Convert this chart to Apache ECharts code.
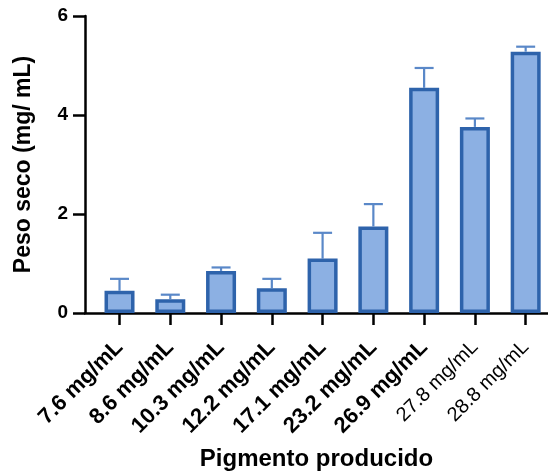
<!DOCTYPE html>
<html>
<head>
<meta charset="utf-8">
<script src="https://cdn.jsdelivr.net/npm/echarts@6/dist/echarts.min.js"></script>
<style>html,body{margin:0;padding:0;background:#fff}#c{width:548px;height:473px}</style>
</head>
<body>
<div id="c"></div>
<script>
var categories = ['7.6 mg/mL', '8.6 mg/mL', '10.3 mg/mL', '12.2 mg/mL', '17.1 mg/mL', '23.2 mg/mL', '26.9 mg/mL', '27.8 mg/mL', '28.8 mg/mL'];
var means = [0.45, 0.28, 0.85, 0.50, 1.10, 1.75, 4.55, 3.76, 5.28];
var errors = [0.24, 0.09, 0.07, 0.19, 0.52, 0.45, 0.40, 0.17, 0.10];
var plainLabels = ['27.8 mg/mL', '28.8 mg/mL'];
var yTicks = [0, 2, 4, 6];
var positions = categories.map(function (c, i) { return i; });

var font = '"Liberation Sans", Arial, sans-serif';
var chart = echarts.init(document.getElementById('c'));
chart.setOption({
  animation: false,
  grid: { left: 85, right: 0, top: 16, bottom: 160, containLabel: false, outerBoundsMode: 'none' },
  xAxis: {
    type: 'value',
    min: -0.68,
    max: 8.44,
    splitLine: { show: false },
    axisLine: { show: true, onZero: false, lineStyle: { color: '#000', width: 2.5 } },
    axisTick: { show: true, customValues: positions, length: 12, lineStyle: { color: '#000', width: 2.5 } },
    axisLabel: {
      customValues: positions,
      rotate: 45,
      margin: 31,
      hideOverlap: false,
      fontFamily: font, fontWeight: 'bold', fontSize: 22, color: '#000',
      formatter: function (v) {
        var c = categories[Math.round(v)];
        return plainLabels.indexOf(c) >= 0 ? '{r|' + c + '}' : c;
      },
      rich: {
        r: { fontFamily: font, fontWeight: 'normal', fontSize: 20, color: '#000' }
      }
    },
    name: 'Pigmento producido',
    nameLocation: 'middle',
    nameGap: 134,
    nameTextStyle: { fontFamily: font, fontWeight: 'bold', fontSize: 24, color: '#000' }
  },
  yAxis: {
    type: 'value',
    min: 0,
    max: 6,
    interval: 2,
    splitLine: { show: false },
    axisLine: { show: true, onZero: false, lineStyle: { color: '#000', width: 2.5 } },
    axisTick: { show: true, length: 12, lineStyle: { color: '#000', width: 2.5 } },
    axisLabel: {
      margin: 17,
      fontFamily: font, fontWeight: 'bold', fontSize: 19, color: '#000',
      formatter: function (v) { return yTicks.indexOf(v) >= 0 ? String(v) : ''; }
    },
    name: 'Peso seco (mg/ mL)',
    nameLocation: 'middle',
    nameGap: 50,
    nameTextStyle: { fontFamily: font, fontWeight: 'bold', fontSize: 23, color: '#000' }
  },
  series: [
    {
      type: 'custom',
      z: 1,
      data: positions.map(function (p, i) { return [p, means[i], means[i] + errors[i]]; }),
      renderItem: function (params, api) {
        var x = api.value(0);
        var lo = api.coord([x, api.value(1)]);
        var hi = api.coord([x, api.value(2)]);
        var half = 9.5;
        var st = { stroke: '#5a88c8', lineWidth: 2.2 };
        return {
          type: 'group',
          children: [
            { type: 'line', shape: { x1: lo[0], y1: lo[1], x2: hi[0], y2: hi[1] }, style: st },
            { type: 'line', shape: { x1: hi[0] - half, y1: hi[1], x2: hi[0] + half, y2: hi[1] }, style: st }
          ]
        };
      }
    },
    {
      type: 'bar',
      z: 2,
      barWidth: 30,
      data: positions.map(function (p, i) { return [p, means[i]]; }),
      itemStyle: { color: '#8cb0e3', borderColor: '#2e63ab', borderWidth: 3.5 }
    }
  ]
});
</script>
</body>
</html>
